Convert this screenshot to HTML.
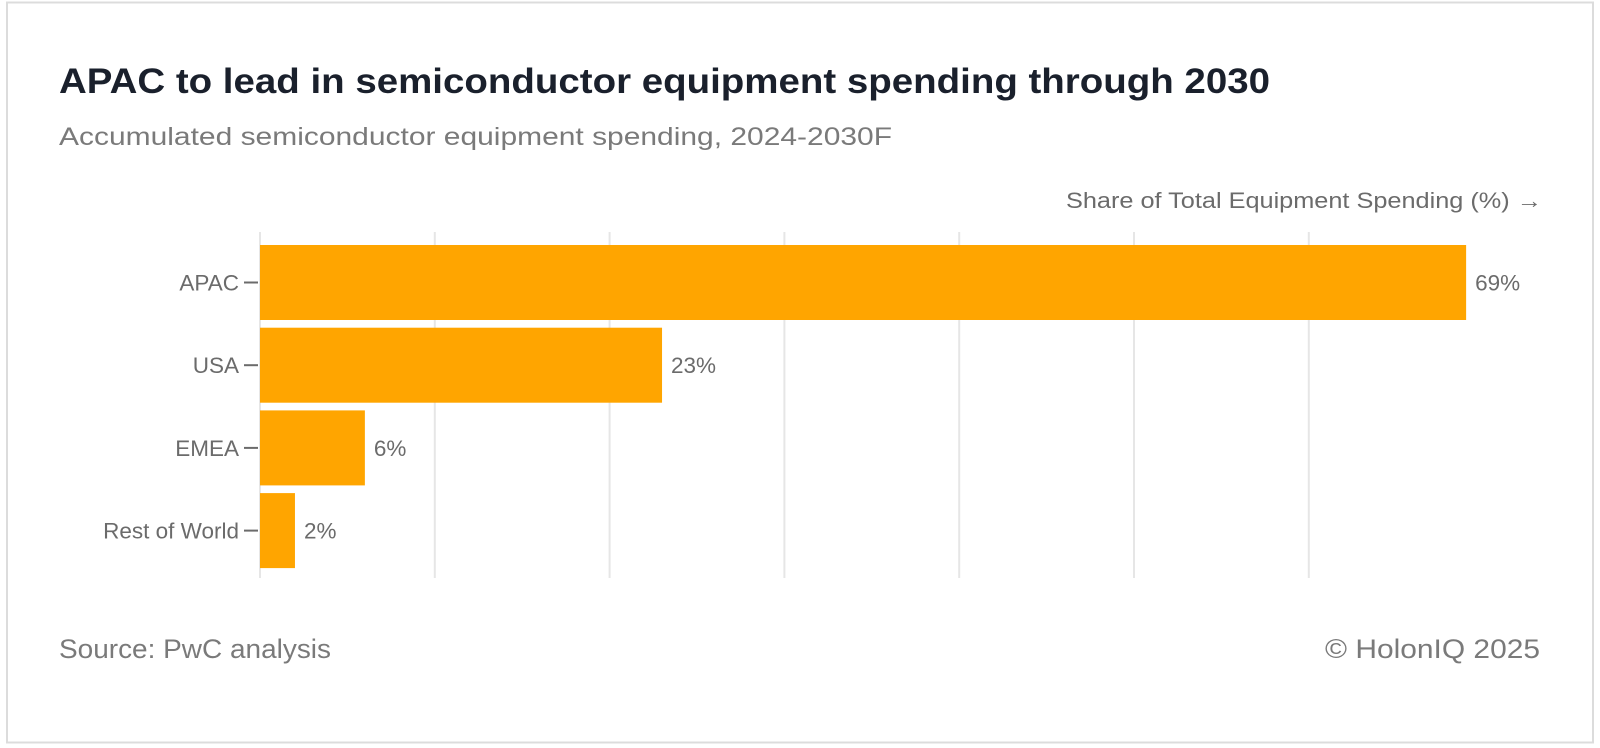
<!DOCTYPE html>
<html><head><meta charset="utf-8"><style>
html,body{margin:0;padding:0;background:#fff;}
svg{display:block;font-family:"Liberation Sans",sans-serif;}
</style></head><body>
<svg id="chart" width="1600" height="748" viewBox="0 0 1600 748">
<rect x="7" y="2.5" width="1586" height="740" fill="#fff" stroke="#dcdcdc" stroke-width="2"/>
<text x="59" y="93" font-size="35" font-weight="bold" fill="#1a202c" textLength="1211" lengthAdjust="spacingAndGlyphs">APAC to lead in semiconductor equipment spending through 2030</text>
<text x="59" y="145" font-size="25" fill="#7a7a7a" textLength="833" lengthAdjust="spacingAndGlyphs">Accumulated semiconductor equipment spending, 2024-2030F</text>
<text x="1542" y="208" font-size="22" fill="#6b6b6b" text-anchor="end" textLength="476" lengthAdjust="spacingAndGlyphs">Share of Total Equipment Spending  (%) →</text>
<g id="grid"></g>
<g id="bars"></g>
<text x="59" y="658" font-size="27" fill="#7a7a7a" textLength="272" lengthAdjust="spacingAndGlyphs">Source: PwC analysis</text>
<text x="1540" y="658" font-size="27" fill="#7a7a7a" text-anchor="end" textLength="215" lengthAdjust="spacingAndGlyphs">© HolonIQ 2025</text>
</svg>
<script>
const categories = ["APAC","USA","EMEA","Rest of World"];
const values = [69,23,6,2];
const valueLabels = ["69%","23%","6%","2%"];
const gridTicks = [0,10,20,30,40,50,60];

const NS="http://www.w3.org/2000/svg";
const x0=260, pxPer=17.48;
const xScale=v=>x0+v*pxPer;
const yTop=245, step=82.7, barH=75;
const yScale=i=>yTop+i*step;
const grid=document.getElementById('grid');
gridTicks.forEach(t=>{
  const l=document.createElementNS(NS,'line');
  l.setAttribute('x1',xScale(t));l.setAttribute('x2',xScale(t));
  l.setAttribute('y1',232);l.setAttribute('y2',578);
  l.setAttribute('stroke','#e6e6e6');l.setAttribute('stroke-width','2');
  
  
  grid.appendChild(l);
});
const bars=document.getElementById('bars');
categories.forEach((c,i)=>{
  const y=yScale(i), cy=y+barH/2;
  const r=document.createElementNS(NS,'rect');
  r.setAttribute('x',x0);r.setAttribute('y',y);
  r.setAttribute('width',xScale(values[i])-x0);r.setAttribute('height',barH);
  r.setAttribute('fill','#ffa500');
  
  
  bars.appendChild(r);
  const tk=document.createElementNS(NS,'line');
  tk.setAttribute('x1',244);tk.setAttribute('x2',258);tk.setAttribute('y1',cy);tk.setAttribute('y2',cy);
  tk.setAttribute('stroke','#6b6b6b');tk.setAttribute('stroke-width','2');
  
  
  bars.appendChild(tk);
  const lt=document.createElementNS(NS,'text');
  lt.setAttribute('x',239);lt.setAttribute('y',cy+8);lt.setAttribute('text-anchor','end');
  lt.setAttribute('font-size','22.5');lt.setAttribute('fill','#6b6b6b');
  lt.textContent=c;
  
  
  bars.appendChild(lt);
  const vt=document.createElementNS(NS,'text');
  vt.setAttribute('x',xScale(values[i])+9);vt.setAttribute('y',cy+8);
  vt.setAttribute('font-size','22.5');vt.setAttribute('fill','#6b6b6b');
  vt.textContent=valueLabels[i];
  
  
  bars.appendChild(vt);
});
</script>
</body></html>
